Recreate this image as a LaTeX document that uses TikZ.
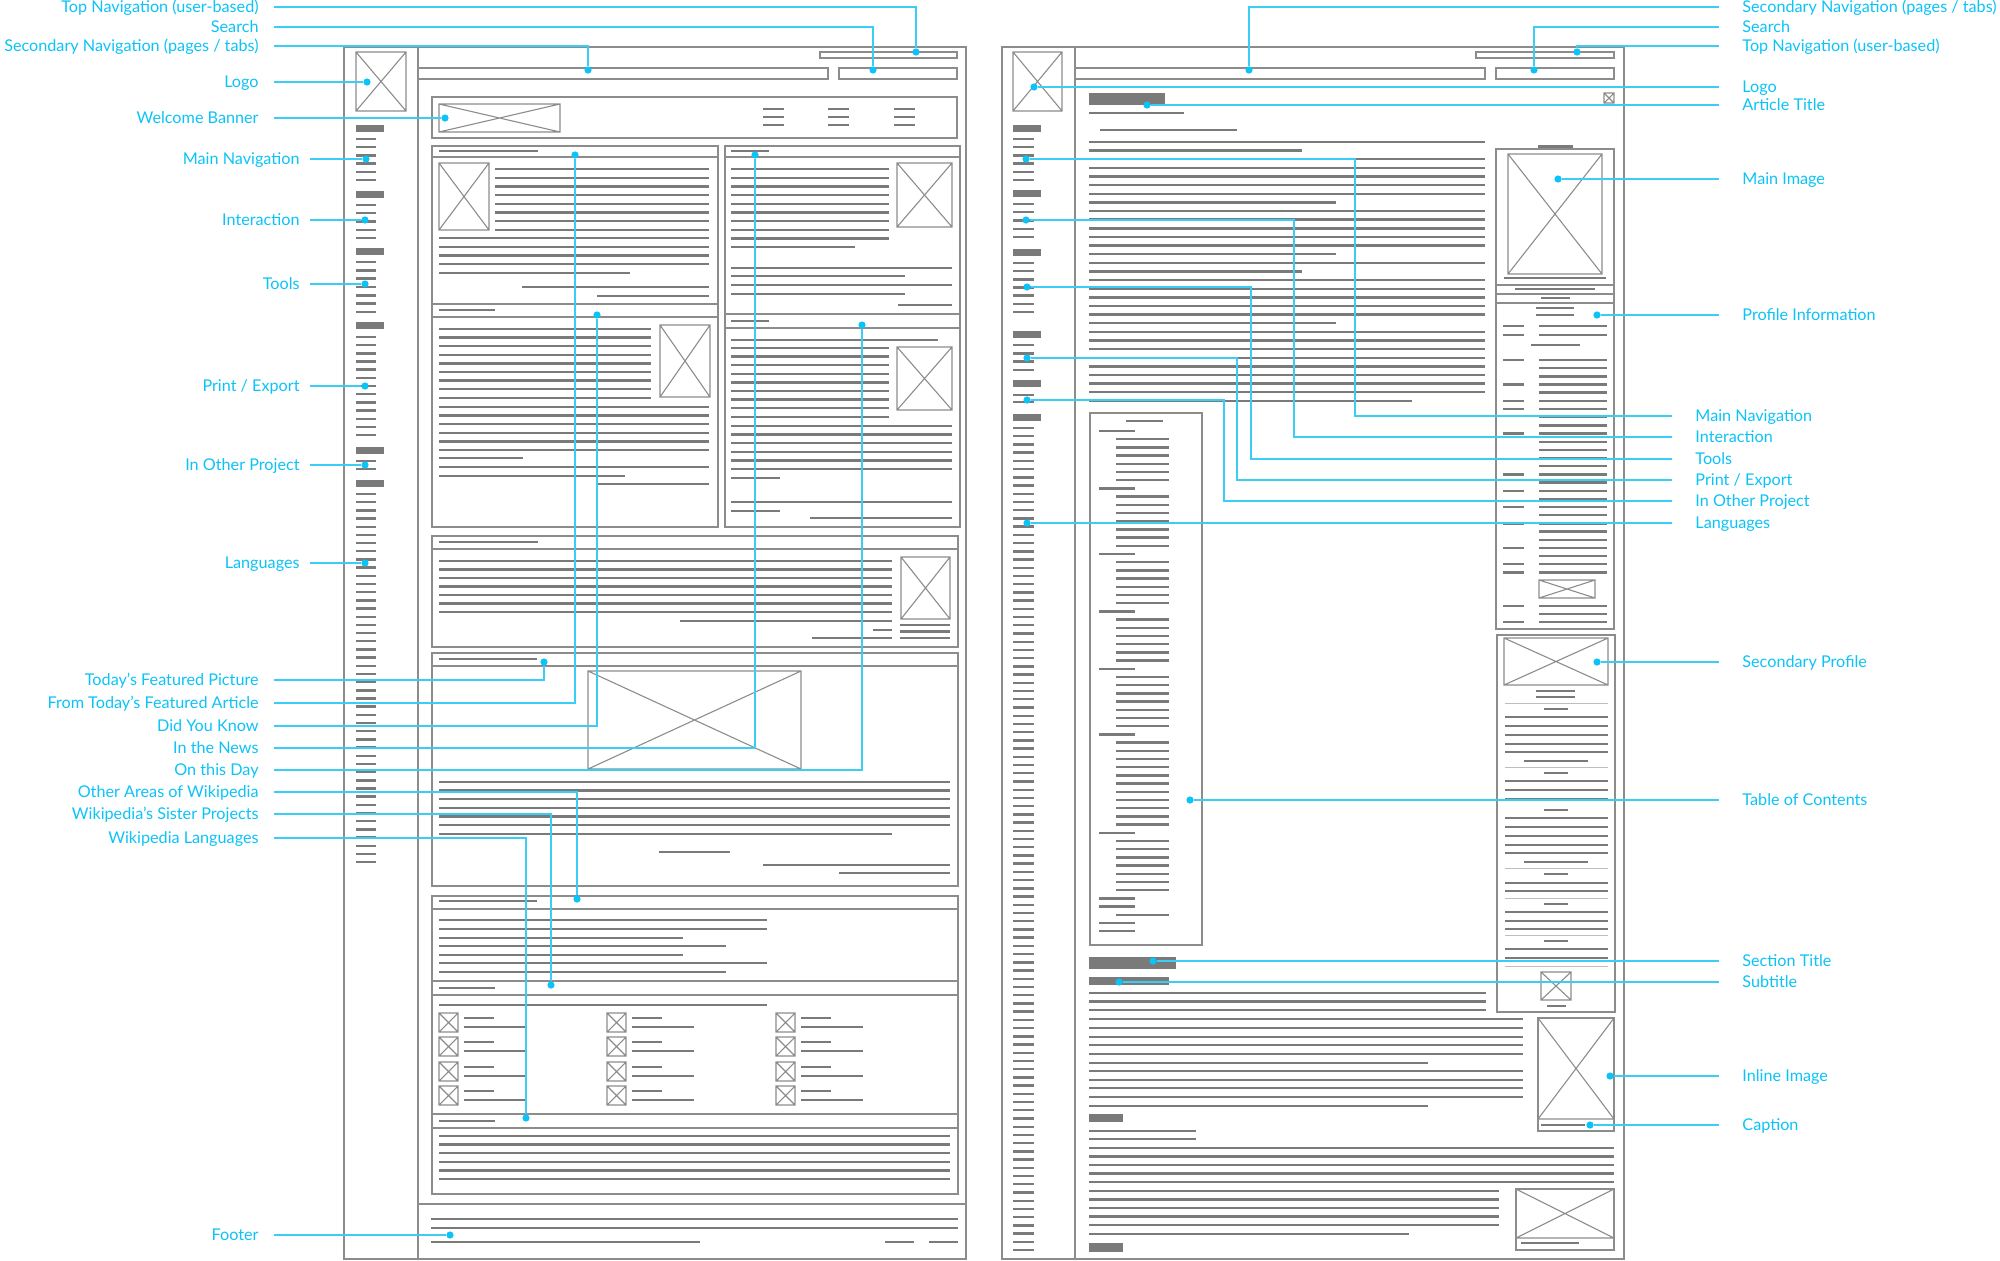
\documentclass[tikz,border=0pt]{standalone}
\usepackage{fontspec}
\setmainfont{Lato}
\usepackage{xcolor}
\definecolor{ciano}   {HTML}{0CC3F7}
\definecolor{cianolt} {HTML}{3ACDF5}
\definecolor{cinza}   {HTML}{8C8C8C}
\definecolor{cinzadk} {HTML}{7A7A7A}
\definecolor{cinzalt} {HTML}{BDBDBD}
\usepackage{tikz}
\usetikzlibrary{calc}
% wireframe helpers
\newcommand{\imgx}[4]{\draw[caixa] (#1,#2) rectangle (#3,#4) (#1,#2) -- (#3,#4) (#1,#4) -- (#3,#2);}
\newcommand{\traco}[3]{\draw[barra] (#1,#3) -- (#2,#3);}
\newcommand{\linhas}[5]{\foreach \k in {1,...,#5}{\draw[barra] (#1,{#3+(\k-1)*#4}) -- (#2,{#3+(\k-1)*#4});}}

\begin{document}
\begin{tikzpicture}[x=0.5pt, y=-0.5pt,
  caixa/.style={draw=cinza, line width=0.55pt},
  barra/.style={draw=cinzadk, line width=1.2pt},
  fino/.style={draw=cinzalt, line width=0.5pt},
  rotulo/.style={font=\fontsize{8.1}{9}\selectfont, text=ciano, inner ysep=0pt, text height=5.7pt, text depth=0pt},
  rotE/.style={rotulo, anchor=east, inner xsep=7.5pt},
  rotD/.style={rotulo, anchor=west, inner xsep=11.5pt},
  guia/.style={draw=cianolt, line width=0.6pt},
  ponto/.style={circle, fill=ciano, inner sep=0pt, minimum size=3.6pt}]
  \useasboundingbox (0,0) rectangle (2000,1260);
  % Página inicial
  \draw[caixa] (344,47) rectangle (966,1259);
  \draw[caixa] (418,47) -- (418,1259);
  \draw[caixa] (418,1204) -- (966,1204);
  \imgx{356}{52}{406}{111}
  \draw[caixa] (820,52) rectangle (957,58);
  \draw[caixa] (418,68) rectangle (828,79);
  \draw[caixa] (839,68) rectangle (957,79);
  \draw[caixa] (432,97) rectangle (957,138);
  \imgx{439}{104}{560}{132}
  \foreach \x in {763,828,894}{\linhas{\x}{\x+21}{109}{8}{3}}
  \foreach \y in {128,194,251,325,450,483}{\fill[cinzadk] (356,{\y-3.5}) rectangle (384,{\y+3.5});}
  \linhas{356}{376}{139}{8.2}{6}
  \linhas{356}{376}{205}{8.25}{5}
  \linhas{356}{376}{262}{8.33}{7}
  \linhas{356}{376}{337}{8.17}{13}
  \linhas{356}{376}{461}{8}{2}
  \linhas{356}{376}{494}{8.18}{46}
  % artigo destacado / você sabia
  \draw[caixa] (432,146) rectangle (718,527);
  \foreach \y in {157,304,317}{\draw[caixa] (432,\y) -- (718,\y);}
  \traco{439}{538}{151} \traco{439}{495}{310}
  \imgx{439}{163}{489}{230}
  \linhas{495}{709}{169}{8.7}{8}
  \linhas{439}{709}{238}{8.7}{4}
  \traco{439}{630}{273} \traco{522}{709}{287} \traco{597}{709}{296}
  \imgx{660}{325}{710}{397}
  \linhas{439}{651}{329}{8.6}{9}
  \linhas{439}{709}{407}{8.6}{6}
  \traco{439}{523}{458} \traco{439}{709}{467} \traco{439}{625}{476} \traco{597}{709}{484}
  % notícias / neste dia
  \draw[caixa] (725,146) rectangle (960,527);
  \foreach \y in {157,314,328}{\draw[caixa] (725,\y) -- (960,\y);}
  \traco{731}{769}{151} \traco{731}{769}{321}
  \imgx{897}{163}{952}{227}
  \linhas{731}{889}{169}{8.7}{9}
  \traco{731}{855}{247} \traco{731}{952}{268} \traco{731}{905}{276} \traco{731}{952}{285} \traco{731}{905}{294} \traco{898}{952}{305}
  \traco{731}{938}{340}
  \imgx{897}{347}{952}{410}
  \linhas{731}{889}{348}{8.6}{9}
  \linhas{731}{952}{426}{8.6}{6}
  \traco{731}{780}{478} \traco{731}{952}{502} \traco{731}{780}{511} \traco{810}{952}{518}
  % bloco largo
  \draw[caixa] (432,536) rectangle (958,647);
  \draw[caixa] (432,549) -- (958,549);
  \traco{439}{538}{542}
  \imgx{901}{557}{950}{619}
  \linhas{439}{892}{561}{8.5}{7}
  \traco{680}{892}{621} \traco{873}{892}{630} \traco{812}{892}{638}
  \linhas{900}{950}{625}{6.5}{3}
  % imagem destacada
  \draw[caixa] (432,653) rectangle (958,886);
  \draw[caixa] (432,666) -- (958,666);
  \traco{439}{537}{659}
  \imgx{588}{671}{801}{769}
  \linhas{439}{950}{782}{8.6}{6}
  \traco{439}{892}{834} \traco{659}{730}{852} \traco{763}{950}{865} \traco{839}{950}{873}
  % outras áreas / projetos / idiomas
  \draw[caixa] (432,896) rectangle (958,1194);
  \foreach \y in {909,981,995,1114,1128}{\draw[caixa] (432,\y) -- (958,\y);}
  \traco{439}{537}{901} \traco{439}{495}{988} \traco{439}{495}{1121}
  \foreach \y/\x in {920/767,929/767,938/683,946/726,955/683,963/767,972/726}{\traco{439}{\x}{\y}}
  \traco{439}{767}{1005}
  \foreach \x in {439,607,776}{\foreach \y in {1013,1037,1062,1086}{
    \imgx{\x}{\y}{\x+19}{\y+19} \traco{\x+25}{\x+55}{\y+5} \traco{\x+25}{\x+87}{\y+14}}}
  \linhas{439}{950}{1136}{8.6}{6}
  \traco{431}{958}{1219} \traco{431}{958}{1228} \traco{431}{700}{1242} \traco{885}{914}{1242} \traco{929}{958}{1242}

  % Página de artigo
  \draw[caixa] (1002,47) rectangle (1624,1259);
  \draw[caixa] (1075,47) -- (1075,1259);
  \imgx{1013}{52}{1062}{111}
  \draw[caixa] (1476,52) rectangle (1614,58);
  \draw[caixa] (1075,68) rectangle (1485,79);
  \draw[caixa] (1496,68) rectangle (1614,79);
  \foreach \y in {128,193,252,334,383,417}{\fill[cinzadk] (1013,{\y-3.5}) rectangle (1041,{\y+3.5});}
  \linhas{1013}{1034}{139}{8.2}{6}
  \linhas{1013}{1034}{204}{8.25}{5}
  \linhas{1013}{1034}{263}{8.17}{7}
  \linhas{1013}{1034}{345}{8.33}{4}
  \linhas{1013}{1034}{395}{7}{2}
  \linhas{1013}{1034}{428}{8.22}{101}
  \fill[cinzadk] (1089,93) rectangle (1165,105);
  \imgx{1604}{93}{1614}{103}
  \traco{1089}{1184}{113} \traco{1100}{1237}{130}
  \foreach \k in {0,...,30}{
    \pgfmathsetmacro{\xe}{(\k==1||\k==15)?1302:((\k==7||\k==13||\k==21)?1336:(\k==30?1412:1485))}
    \draw[barra] (1089,{142+\k*8.63}) -- (\xe,{142+\k*8.63});}
  % sumário
  \draw[caixa] (1090,413) rectangle (1202,945);
  \traco{1126}{1163}{421}
  \foreach \k in {0,7,15,22,29,37,49,57,58,60,61}{\draw[barra] (1099,{431+\k*8.2}) -- (1135,{431+\k*8.2});}
  \foreach \a/\b in {1/6,8/14,16/21,23/28,30/36,38/48,50/56,59/59}{
    \foreach \k in {\a,...,\b}{\draw[barra] (1116,{431+\k*8.2}) -- (1169,{431+\k*8.2});}}
  % seção
  \fill[cinzadk] (1089,957) rectangle (1176,969);
  \fill[cinzadk] (1089,977) rectangle (1169,985);
  \linhas{1089}{1486}{993}{8.5}{3}
  \foreach \y/\x in {1019/1523,1028/1523,1037/1523,1045/1523,1054/1523,1063/1428,1071/1523,1080/1523,1088/1523,1097/1523,1106/1428}{\traco{1089}{\x}{\y}}
  \fill[cinzadk] (1089,1114) rectangle (1123,1122);
  \traco{1089}{1196}{1131} \traco{1089}{1196}{1139}
  \linhas{1089}{1614}{1148}{8.5}{5}
  \linhas{1089}{1499}{1191}{8.5}{5}
  \traco{1089}{1409}{1234}
  \fill[cinzadk] (1089,1243) rectangle (1123,1252);
  % perfil
  \fill[cinzadk] (1538,145) rectangle (1573,149);
  \draw[caixa] (1496,149) rectangle (1614,629);
  \imgx{1508}{154}{1602}{274}
  \traco{1504}{1606}{278}
  \foreach \y in {285,294,303}{\draw[caixa] (1496,\y) -- (1614,\y);}
  \traco{1515}{1595}{289} \traco{1541}{1570}{298} \traco{1536}{1574}{308} \traco{1536}{1574}{315}
  \foreach \y in {326,335,606,622}{\traco{1503}{1524}{\y}}
  \foreach \y in {326,335,606,614,622}{\traco{1539}{1607}{\y}}
  \traco{1531}{1580}{345}
  \foreach \k in {0,...,26}{\draw[barra] (1539,{360+\k*8.17}) -- (1607,{360+\k*8.17});}
  \foreach \k in {0,3,5,6,9,14,16,18,20,23,25,26}{\draw[barra] (1503,{360+\k*8.17}) -- (1524,{360+\k*8.17});}
  \imgx{1539}{580}{1595}{598}
  % perfil secundário
  \draw[caixa] (1497,635) rectangle (1615,1012);
  \imgx{1504}{638}{1608}{685}
  \traco{1536}{1575}{691} \traco{1536}{1575}{697}
  \foreach \y in {703,767,868,898,935,966}{\draw[fino] (1505,\y) -- (1608,\y);}
  \foreach \y in {709,773,810,874,904,941}{\traco{1544}{1568}{\y}}
  \foreach \y in {761,862}{\traco{1524}{1588}{\y}}
  \foreach \y in {717,726,735,744,752,781,790,799,818,827,836,845,853,883,891,912,921,929,949,958}{\traco{1505}{1608}{\y}}
  \imgx{1541}{972}{1571}{1000}
  \traco{1547}{1566}{1006}
  % imagens no texto
  \draw[caixa] (1538,1018) rectangle (1614,1131);
  \imgx{1538}{1018}{1614}{1119}
  \traco{1541}{1585}{1125}
  \draw[caixa] (1516,1189) rectangle (1614,1250);
  \imgx{1516}{1189}{1614}{1238}
  \traco{1521}{1579}{1243}

  % Rótulos, página inicial
  \node[rotE] (lTop) at (274,7) {Top Navigation (user-based)};
  \node[rotE] (lSearch) at (274,27) {Search};
  \node[rotE] (lSec) at (274,46) {Secondary Navigation (pages / tabs)};
  \node[rotE] (lLogo) at (274,82) {Logo};
  \node[rotE] (lBanner) at (274,118) {Welcome Banner};
  \node[rotE, inner xsep=5pt] (lMain) at (310,159) {Main Navigation};
  \node[rotE, inner xsep=5pt] (lInter) at (310,220) {Interaction};
  \node[rotE, inner xsep=5pt] (lTools) at (310,284) {Tools};
  \node[rotE, inner xsep=5pt] (lPrint) at (310,386) {Print / Export};
  \node[rotE, inner xsep=5pt] (lOther) at (310,465) {In Other Project};
  \node[rotE, inner xsep=5pt] (lLang) at (310,563) {Languages};
  \node[rotE] (lPic) at (274,680) {Today's Featured Picture};
  \node[rotE] (lArt) at (274,703) {From Today's Featured Article};
  \node[rotE] (lDyk) at (274,726) {Did You Know};
  \node[rotE] (lNews) at (274,748) {In the News};
  \node[rotE] (lDay) at (274,770) {On this Day};
  \node[rotE] (lAreas) at (274,792) {Other Areas of Wikipedia};
  \node[rotE] (lSister) at (274,814) {Wikipedia's Sister Projects};
  \node[rotE] (lWLang) at (274,838) {Wikipedia Languages};
  \node[rotE] (lFoot) at (274,1235) {Footer};
  \node[ponto] (dTop) at (916,52) {};
  \node[ponto] (dSearch) at (873,70) {};
  \node[ponto] (dSec) at (588,70) {};
  \node[ponto] (dLogo) at (367,82) {};
  \node[ponto] (dBanner) at (445,118) {};
  \node[ponto] (dMain) at (366,159) {};
  \node[ponto] (dInter) at (365,220) {};
  \node[ponto] (dTools) at (365,284) {};
  \node[ponto] (dPrint) at (365,386) {};
  \node[ponto] (dOther) at (365,465) {};
  \node[ponto] (dLang) at (365,563) {};
  \node[ponto] (dPic) at (544,662) {};
  \node[ponto] (dArt) at (575,155) {};
  \node[ponto] (dDyk) at (597,315) {};
  \node[ponto] (dNews) at (755,155) {};
  \node[ponto] (dDay) at (862,325) {};
  \node[ponto] (dAreas) at (577,899) {};
  \node[ponto] (dSister) at (551,985) {};
  \node[ponto] (dWLang) at (526,1118) {};
  \node[ponto] (dFoot) at (450,1235) {};
  \draw[guia] (lTop.east) -| (dTop);
  \draw[guia] (lSearch.east) -| (dSearch);
  \draw[guia] (lSec.east) -| (dSec);
  \foreach \n in {Logo,Banner,Main,Inter,Tools,Print,Other,Lang,Foot}{\draw[guia] (l\n.east) -- (d\n);}
  \foreach \n in {Pic,Art,Dyk,News,Day,Areas,Sister,WLang}{\draw[guia] (l\n.east) -| (d\n);}

  % Rótulos, página de artigo
  \node[rotD] (rSec) at (1719,7) {Secondary Navigation (pages / tabs)};
  \node[rotD] (rSearch) at (1719,27) {Search};
  \node[rotD] (rTop) at (1719,46) {Top Navigation (user-based)};
  \node[rotD] (rLogo) at (1719,87) {Logo};
  \node[rotD] (rTitle) at (1719,105) {Article Title};
  \node[rotD] (rImg) at (1719,179) {Main Image};
  \node[rotD] (rProf) at (1719,315) {Profile Information};
  \node[rotD] (rMain) at (1672,416) {Main Navigation};
  \node[rotD] (rInter) at (1672,437) {Interaction};
  \node[rotD] (rTools) at (1672,459) {Tools};
  \node[rotD] (rPrint) at (1672,480) {Print / Export};
  \node[rotD] (rOther) at (1672,501) {In Other Project};
  \node[rotD] (rLang) at (1672,523) {Languages};
  \node[rotD] (rSecP) at (1719,662) {Secondary Profile};
  \node[rotD] (rToc) at (1719,800) {Table of Contents};
  \node[rotD] (rSect) at (1719,961) {Section Title};
  \node[rotD] (rSub) at (1719,982) {Subtitle};
  \node[rotD] (rInl) at (1719,1076) {Inline Image};
  \node[rotD] (rCap) at (1719,1125) {Caption};
  \node[ponto] (eSec) at (1249,70) {};
  \node[ponto] (eSearch) at (1534,70) {};
  \node[ponto] (eTop) at (1577,52) {};
  \node[ponto] (eLogo) at (1034,87) {};
  \node[ponto] (eTitle) at (1147,105) {};
  \node[ponto] (eImg) at (1558,179) {};
  \node[ponto] (eProf) at (1597,315) {};
  \node[ponto] (eMain) at (1026,159) {};
  \node[ponto] (eInter) at (1026,220) {};
  \node[ponto] (eTools) at (1027,287) {};
  \node[ponto] (ePrint) at (1027,358) {};
  \node[ponto] (eOther) at (1027,400) {};
  \node[ponto] (eLang) at (1027,523) {};
  \node[ponto] (eSecP) at (1597,662) {};
  \node[ponto] (eToc) at (1190,800) {};
  \node[ponto] (eSect) at (1153,961) {};
  \node[ponto] (eSub) at (1119,982) {};
  \node[ponto] (eInl) at (1610,1076) {};
  \node[ponto] (eCap) at (1590,1125) {};
  \coordinate (kMain) at (1355,416);
  \coordinate (kInter) at (1294,437);
  \coordinate (kTools) at (1251,459);
  \coordinate (kPrint) at (1237,480);
  \coordinate (kOther) at (1224,501);
  \foreach \n in {Sec,Search,Top}{\draw[guia] (r\n.west) -| (e\n);}
  \foreach \n in {Logo,Title,Img,Prof,Lang,SecP,Toc,Sect,Sub,Inl,Cap}{\draw[guia] (r\n.west) -- (e\n);}
  \foreach \n in {Main,Inter,Tools,Print,Other}{\draw[guia] (e\n) -| (k\n) -- (r\n.west);}
\end{tikzpicture}
\end{document}
